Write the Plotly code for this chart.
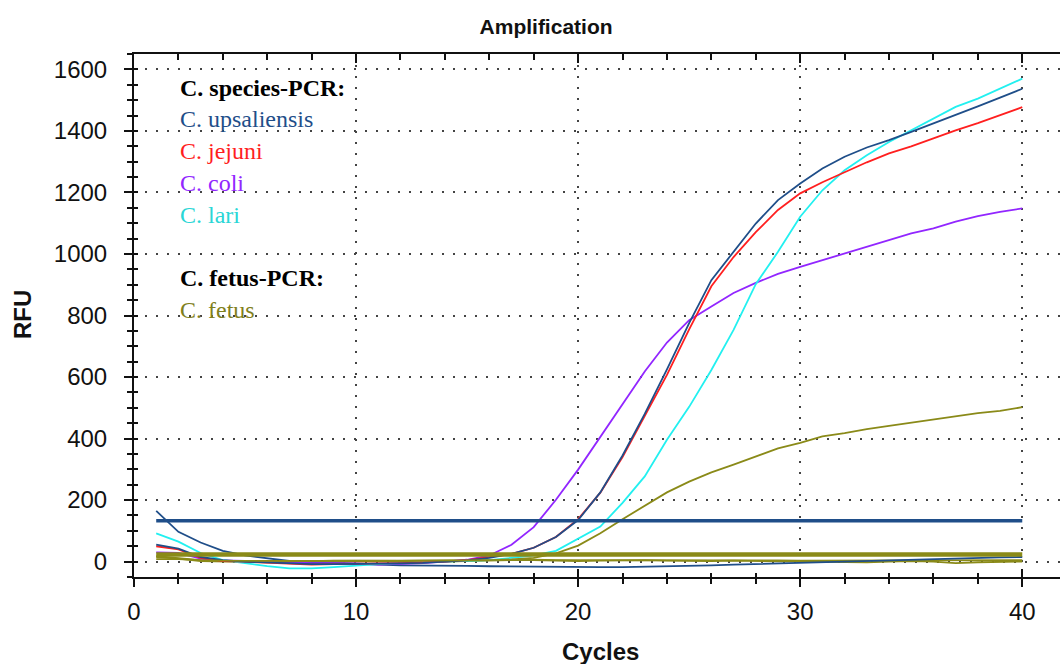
import plotly.graph_objects as go

cycles = list(range(1, 41))

upsaliensis = [55, 42, 15, 5, 0, -3, -6, -8, -8, -8, -8, -6, -4, -1, 4, 12, 25, 45, 80, 135,
               225, 345, 480, 625, 775, 915, 1007, 1099, 1175, 1229, 1278, 1316, 1346, 1370, 1397,
               1424, 1453, 1480, 1508, 1537]
jejuni = [50, 40, 12, 2, 0, -4, -8, -10, -8, -6, -6, -5, -3, 0, 5, 14, 25, 45, 80, 138,
          224, 340, 474, 607, 755, 895, 990, 1071, 1143, 1197, 1233, 1266, 1298, 1327, 1350,
          1376, 1402, 1425, 1451, 1477]
coli = [30, 28, 10, 4, 2, 0, -4, -5, -5, -6, -10, -8, -5, 0, 6, 20, 55, 112, 201, 299,
        406, 515, 618, 712, 785, 829, 873, 906, 935, 958, 980, 1002, 1023, 1045, 1067,
        1083, 1105, 1123, 1137, 1148]
lari = [92, 65, 28, 5, -5, -15, -22, -22, -18, -12, -8, -5, -3, 0, 2, 5, 12, 20, 35, 74,
        114, 191, 277, 396, 503, 623, 753, 902, 1007, 1121, 1207, 1272, 1321, 1364, 1402,
        1440, 1478, 1505, 1537, 1570]
fetus = [18, 12, 5, 3, 2, 2, 2, 2, 2, 3, 3, 3, 3, 4, 4, 5, 7, 12, 27, 52,
         92, 138, 182, 225, 260, 290, 315, 342, 368, 386, 407, 418, 431, 441, 452,
         461, 472, 483, 490, 502]
fetus_neg_a = [15, 10, 2, 0, 0, -2, -2, -3, -2, 0, 2, 0, -2, 0, 2, 3, 5, 5, 3, 2,
               3, 5, 5, 3, 2, 2, 3, 2, 0, 0, -2, -3, -2, 0, 2, 0, -5, -2, 0, 0]
fetus_neg_b = [8, 8, 5, 3, 2, 0, 0, 2, 3, 3, 2, 2, 3, 4, 5, 5, 6, 6, 5, 5,
               6, 6, 5, 5, 4, 4, 5, 5, 4, 3, 3, 4, 5, 5, 4, 4, 3, 4, 5, 5]
upsaliensis_neg = [165, 97, 62, 35, 20, 10, 2, -3, -6, -8, -10, -12, -12, -13, -14, -15, -16, -17, -18, -18,
                   -18, -18, -17, -16, -15, -12, -10, -8, -5, -2, 0, 0, 2, 4, 6, 8, 10, 12, 14, 15]
threshold_species = 133
threshold_fetus = 23

legend_title_1 = "C. species-PCR:"
legend_title_2 = "C. fetus-PCR:"
legend_names = ["C. upsaliensis", "C. jejuni", "C. coli", "C. lari"]
fetus_name = "C. fetus"

BLUE = "#1f4e89"
RED = "#ff1f1f"
PURPLE = "#9226ff"
CYAN = "#22f0f0"
OLIVE = "#8a8a18"

fig = go.Figure()

def line(y, color, width=1.8):
    fig.add_trace(go.Scatter(x=cycles, y=y, mode="lines",
                             line=dict(color=color, width=width),
                             hoverinfo="skip", showlegend=False))

line(fetus_neg_b, OLIVE)
line(fetus_neg_a, OLIVE)
line(upsaliensis_neg, BLUE)
line(coli, PURPLE)
line(lari, CYAN)
line(jejuni, RED)
line(upsaliensis, BLUE)
line(fetus, OLIVE)
line([threshold_fetus] * len(cycles), OLIVE, 4.5)
line([threshold_species] * len(cycles), BLUE, 3.5)

# dummy traces so overlay axes are drawn
fig.add_trace(go.Scatter(x=[None], y=[None], xaxis="x2", yaxis="y2", showlegend=False, hoverinfo="skip"))
fig.add_trace(go.Scatter(x=[None], y=[None], xaxis="x3", yaxis="y2", showlegend=False, hoverinfo="skip"))

XR = [0, 41.7]
YR = [-50, 1650]
tickfont = dict(family="Liberation Sans, Arial", size=24, color="#111")

fig.update_layout(
    width=1060, height=664,
    margin=dict(l=134, r=0, t=54, b=87),
    paper_bgcolor="white", plot_bgcolor="white",
    title=dict(text="<b>Amplification</b>", x=0.445, xanchor="center", xref="paper",
               y=1 - 27 / 664, yanchor="middle", yref="container",
               font=dict(family="Liberation Sans, Arial", size=21, color="#111")),
    xaxis=dict(range=XR, dtick=10, tick0=0, ticks="outside", ticklen=8, tickwidth=2,
               tickcolor="#111", showline=True, linecolor="#111", linewidth=2,
               showgrid=True, gridcolor="#444", gridwidth=1.5, griddash="2px,9px",
               zeroline=False, tickfont=tickfont, ticklabelstandoff=4,
               minor=dict(dtick=2, tick0=0, ticks="outside", ticklen=5, tickwidth=1.5,
                          tickcolor="#111", showgrid=False)),
    xaxis2=dict(range=XR, overlaying="x", anchor="y", side="bottom", dtick=10, tick0=0,
                ticks="inside", ticklen=8, tickwidth=2, tickcolor="#111",
                showticklabels=False, showline=False, showgrid=False, zeroline=False,
                minor=dict(dtick=2, tick0=0, ticks="inside", ticklen=4, tickwidth=1.5,
                           tickcolor="#111")),
    xaxis3=dict(range=XR, overlaying="x", anchor="y", side="top", dtick=10, tick0=0,
                ticks="inside", ticklen=9, tickwidth=2, tickcolor="#111",
                showticklabels=False, showline=True, linecolor="#111", linewidth=2,
                showgrid=False, zeroline=False,
                minor=dict(dtick=2, tick0=0, ticks="inside", ticklen=6, tickwidth=1.5,
                           tickcolor="#111")),
    yaxis=dict(range=YR, dtick=200, tick0=0, ticks="outside", ticklen=8, tickwidth=2,
               tickcolor="#111", showline=True, linecolor="#111", linewidth=2,
               showgrid=True, gridcolor="#444", gridwidth=1.5, griddash="2px,9px",
               zeroline=False, tickfont=tickfont, ticklabelstandoff=12,
               minor=dict(dtick=50, tick0=0, ticks="outside", ticklen=5, tickwidth=1.5,
                          tickcolor="#111", showgrid=False)),
    yaxis2=dict(range=YR, overlaying="y", anchor="x", side="left", dtick=200, tick0=0,
                ticks="inside", ticklen=4, tickwidth=2, tickcolor="#111",
                showticklabels=False, showline=False, showgrid=False, zeroline=False,
                minor=dict(dtick=50, tick0=0, ticks="inside", ticklen=4, tickwidth=1.5,
                           tickcolor="#111")),
    showlegend=False,
)

PW, PH, PL, PT = 926, 523, 134, 54

def px_to_paper(px, py):
    return (px - PL) / PW, (PT + PH - py) / PH

serif = "Liberation Serif, Times New Roman, serif"
items = [
    (f"<b>{legend_title_1}</b>", "#000", 88),
    (legend_names[0], BLUE, 119),
    (legend_names[1], RED, 151),
    (legend_names[2], PURPLE, 183),
    (legend_names[3], "#2ad6d6", 215),
    (f"<b>{legend_title_2}</b>", "#000", 278),
    (fetus_name, "#80801c", 310),
]
for text, color, py in items:
    xp, yp = px_to_paper(178, py)
    fig.add_annotation(text=text, x=xp, y=yp, xref="paper", yref="paper",
                       xanchor="left", yanchor="middle", showarrow=False,
                       font=dict(family=serif, size=24, color=color))

xp, yp = px_to_paper(22, 315)
fig.add_annotation(text="<b>RFU</b>", x=xp, y=yp, xref="paper", yref="paper",
                   xanchor="center", yanchor="middle", showarrow=False, textangle=-90,
                   font=dict(family="Liberation Sans, Arial", size=24, color="#111"))
xp, yp = px_to_paper(600, 651)
fig.add_annotation(text="<b>Cycles</b>", x=xp, y=yp, xref="paper", yref="paper",
                   xanchor="center", yanchor="middle", showarrow=False,
                   font=dict(family="Liberation Sans, Arial", size=24, color="#111"))

fig.write_html("out.html")
